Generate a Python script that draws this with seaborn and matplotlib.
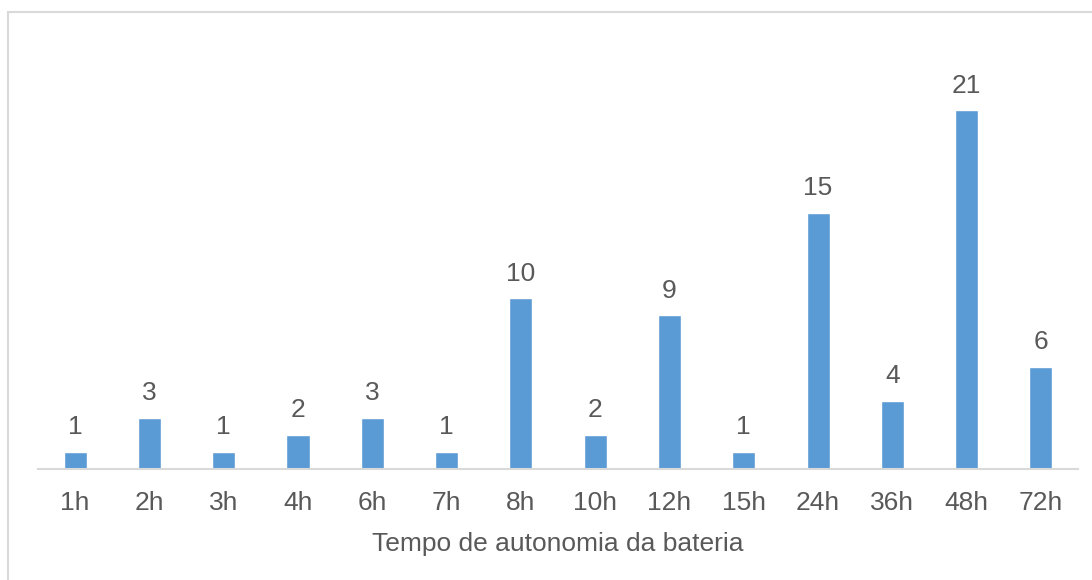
import matplotlib
matplotlib.use("Agg")
import matplotlib.pyplot as plt
import matplotlib.patches as patches
import seaborn as sns
import pandas as pd

categories = ['1h', '2h', '3h', '4h', '6h', '7h', '8h', '10h', '12h',
              '15h', '24h', '36h', '48h', '72h']
counts = [1, 3, 1, 2, 3, 1, 10, 2, 9, 1, 15, 4, 21, 6]

df = pd.DataFrame({'Tempo': categories, 'Qtd': counts})

sns.set_theme(style='white')
plt.rcParams['font.family'] = ['Liberation Sans', 'DejaVu Sans']

text_color = '#595959'
bar_color = '#5B9BD5'
line_color = '#D9D9D9'

fig = plt.figure(figsize=(10.92, 5.8), dpi=100)
ax = fig.add_axes([0.0348, 0.1914, 0.9524, 0.7362])

sns.barplot(data=df, x='Tempo', y='Qtd', color=bar_color,
            width=0.31, saturation=1, ax=ax)

for container in ax.containers:
    ax.bar_label(container, fontsize=19, color=text_color, padding=9)

ax.set_ylim(0, 25)
ax.set_xlim(-0.5, len(categories) - 0.5)
ax.set_yticks([])
ax.set_ylabel('')
ax.set_xlabel('Tempo de autonomia da bateria', color=text_color,
              fontsize=19, labelpad=12)
ax.tick_params(axis='x', colors=text_color, labelsize=19, length=0, pad=16)

for side in ['top', 'left', 'right']:
    ax.spines[side].set_visible(False)
ax.spines['bottom'].set_color(line_color)
ax.spines['bottom'].set_linewidth(1.5)

# outer chart border (cut off at right/bottom)
border = patches.Rectangle((8 / 1092, -0.1), 1.2, 1.1 - 12 / 580,
                           transform=fig.transFigure, fill=False,
                           edgecolor=line_color, linewidth=1.5)
fig.patches.append(border)

fig.savefig('out.png', dpi=100, facecolor='white')
